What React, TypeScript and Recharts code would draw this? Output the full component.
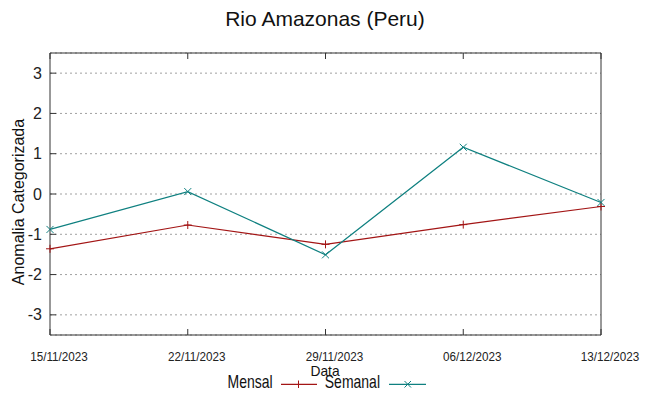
import React from 'react';
import { LineChart, Line, XAxis, YAxis, CartesianGrid } from 'recharts';

const dates = ['15/11/2023', '22/11/2023', '29/11/2023', '06/12/2023', '13/12/2023'];
const mensal = [-1.36, -0.77, -1.25, -0.76, -0.31];
const semanal = [-0.88, 0.06, -1.51, 1.16, -0.21];
const yTicks = [-3, -2, -1, 0, 1, 2, 3];
const seriesNames = ['Mensal', 'Semanal'];

const data = dates.map((d, i) => ({ date: d, mensal: mensal[i], semanal: semanal[i] }));

const RED = '#a31515';
const TEAL = '#0f8080';
const FRAME = '#333333';
const SANS = '"Liberation Sans", Arial, sans-serif';

const W = 649;
const H = 396;

const Plus = (props: any) => {
  const { cx, cy } = props;
  if (cx == null || cy == null) return null;
  return (
    <g stroke={RED} strokeWidth={1}>
      <line x1={cx - 4} y1={cy} x2={cx + 4} y2={cy} />
      <line x1={cx} y1={cy - 4} x2={cx} y2={cy + 4} />
    </g>
  );
};

const Cross = (props: any) => {
  const { cx, cy } = props;
  if (cx == null || cy == null) return null;
  return (
    <g stroke={TEAL} strokeWidth={1}>
      <line x1={cx - 3.5} y1={cy - 3.5} x2={cx + 3.5} y2={cy + 3.5} />
      <line x1={cx - 3.5} y1={cy + 3.5} x2={cx + 3.5} y2={cy - 3.5} />
    </g>
  );
};

const LeftTick = (props: any) => {
  const { x, y, payload } = props;
  return (
    <g>
      <line x1={x + 8} y1={y} x2={x + 14} y2={y} stroke={FRAME} />
      <text x={x} y={y} dy={5.5} textAnchor="end" fontSize={16} fill="#222" fontFamily={SANS}>
        {payload.value}
      </text>
    </g>
  );
};

const RightTick = (props: any) => {
  const { x, y } = props;
  return <line x1={x - 8} y1={y} x2={x - 14} y2={y} stroke={FRAME} />;
};

const BottomTick = (props: any) => {
  const { x, y, payload } = props;
  return (
    <g>
      <line x1={x} y1={y} x2={x} y2={y - 6} stroke={FRAME} />
      <text
        transform={`translate(${x + 9},361) scale(0.9,1)`}
        textAnchor="middle"
        fontSize={13}
        fill="#222"
        fontFamily={SANS}
      >
        {payload.value}
      </text>
    </g>
  );
};

const TopTick = (props: any) => {
  const { x, y } = props;
  return <line x1={x} y1={y} x2={x} y2={y + 6} stroke={FRAME} />;
};

export default function App() {
  return (
    <div style={{ position: 'absolute', left: 0, top: 0, width: W, height: H, background: '#fff' }}>
      <LineChart width={W} height={H} data={data} margin={{ top: 52, right: 47, bottom: 60, left: 49 }}>
        <CartesianGrid xAxisId="bottom" yAxisId="left" vertical={false} stroke="#a0a0a0" strokeDasharray="2 3" />
        <XAxis
          dataKey="date"
          xAxisId="bottom"
          orientation="bottom"
          height={1}
          axisLine={{ stroke: FRAME }}
          tickLine={false}
          tickSize={0}
          tickMargin={0}
          tick={<BottomTick />}
          interval={0}
        />
        <XAxis
          dataKey="date"
          xAxisId="top"
          orientation="top"
          height={1}
          axisLine={{ stroke: FRAME }}
          tickLine={false}
          tickSize={0}
          tickMargin={0}
          tick={<TopTick />}
          interval={0}
        />
        <YAxis
          yAxisId="left"
          domain={[-3.5, 3.5]}
          ticks={yTicks}
          axisLine={{ stroke: FRAME }}
          tickLine={false}
          tickSize={0}
          tickMargin={8}
          tick={<LeftTick />}
          width={1}
        />
        <YAxis
          yAxisId="right"
          orientation="right"
          domain={[-3.5, 3.5]}
          ticks={yTicks}
          axisLine={{ stroke: FRAME }}
          tickLine={false}
          tickSize={0}
          tickMargin={8}
          tick={<RightTick />}
          width={1}
        />
        <Line
          xAxisId="bottom"
          yAxisId="left"
          type="linear"
          dataKey="mensal"
          stroke={RED}
          strokeWidth={1.2}
          dot={<Plus />}
          activeDot={false}
          isAnimationActive={false}
        />
        <Line
          xAxisId="bottom"
          yAxisId="left"
          type="linear"
          dataKey="semanal"
          stroke={TEAL}
          strokeWidth={1.2}
          dot={<Cross />}
          activeDot={false}
          isAnimationActive={false}
        />
      </LineChart>
      <svg width={W} height={H} style={{ position: 'absolute', left: 0, top: 0, pointerEvents: 'none' }}>
        <text x={325} y={26} textAnchor="middle" fontSize={21} fill="#111" fontFamily={SANS}>
          Rio Amazonas (Peru)
        </text>
        <text
          transform="translate(24,202) rotate(-90)"
          textAnchor="middle"
          fontSize={16}
          fill="#111"
          fontFamily={SANS}
        >
          Anomalia Categorizada
        </text>
        <text transform="translate(325,375.7) scale(0.92,1)" textAnchor="middle" fontSize={15} fill="#111" fontFamily={SANS}>
          Data
        </text>
        <text transform="translate(272.7,388.3) scale(0.8,1)" textAnchor="end" fontSize={17.5} fill="#111" fontFamily={SANS}>
          {seriesNames[0]}
        </text>
        <line x1={281} y1={384.3} x2={317} y2={384.3} stroke={RED} strokeWidth={1.2} />
        <line x1={298.5} y1={380.5} x2={298.5} y2={388} stroke={RED} />
        <text transform="translate(380,388.3) scale(0.8,1)" textAnchor="end" fontSize={17.5} fill="#111" fontFamily={SANS}>
          {seriesNames[1]}
        </text>
        <line x1={389} y1={384.3} x2={426} y2={384.3} stroke={TEAL} strokeWidth={1.2} />
        <line x1={404.5} y1={381} x2={411} y2={387.5} stroke={TEAL} />
        <line x1={404.5} y1={387.5} x2={411} y2={381} stroke={TEAL} />
      </svg>
    </div>
  );
}
